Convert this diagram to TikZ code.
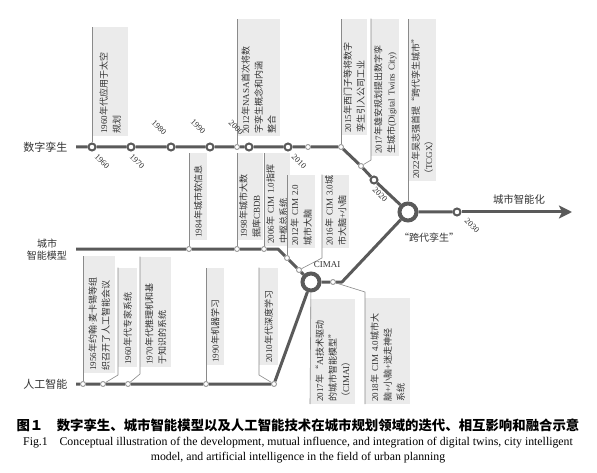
\documentclass[tikz,border=0pt]{standalone}
\usepackage{fontspec}
\setmainfont{Liberation Serif}
\newfontfamily\cjk[RawFeature=+fwid]{Noto Sans CJK SC}
\usetikzlibrary{arrows.meta}

% Chinese characters switch to the CJK font by themselves
\newXeTeXintercharclass\cjkcls
\newcount\cjkc
\def\cjkrange#1#2{\cjkc=#1\relax
  \loop\XeTeXcharclass\cjkc=\cjkcls\relax
  \ifnum\cjkc<#2\relax\advance\cjkc by 1\relax\repeat}
\cjkrange{"4E00}{"9FFF}
\cjkrange{"3000}{"303F}
\cjkrange{"FF00}{"FFEF}
\XeTeXcharclass"201C=\cjkcls
\XeTeXcharclass"201D=\cjkcls
\XeTeXinterchartoks 0 \cjkcls={\cjk}
\XeTeXinterchartoks 4095 \cjkcls={\cjk}
\XeTeXinterchartoks \cjkcls 0={\rmfamily}
\XeTeXinterchartoks \cjkcls 4095={\rmfamily}
\XeTeXinterchartokenstate=1

\definecolor{linegray}{HTML}{5A5A5A}
\definecolor{ptgray}{HTML}{9A9A9A}
\definecolor{leadgray}{HTML}{8A8A8A}
\definecolor{boxgray}{HTML}{EBEBEB}
\definecolor{txt}{HTML}{333333}

\begin{document}
\begin{tikzpicture}[x=1pt,y=-1pt,
  main/.style={draw=linegray, line width=3pt, line join=round},
  lead/.style={draw=leadgray, line width=0.6pt},
  big/.style={circle, draw=linegray, line width=2pt, fill=white, inner sep=0pt, minimum size=7pt},
  sml/.style={circle, draw=ptgray, line width=0.9pt, fill=white, inner sep=0pt, minimum size=5pt},
  hub/.style={circle, draw=linegray, line width=4pt, fill=white, inner sep=0pt, minimum size=17pt},
  evt/.style={fill=boxgray, rotate=90, anchor=north west, align=left, inner sep=2pt,
    font=\fontsize{9}{13}\selectfont, text=txt},
  yr/.style={rotate=-45, font=\fontsize{8.5}{8.5}\selectfont, text=txt},
  lbl/.style={font=\fontsize{11}{12}\selectfont, text=txt}]

  \fill[white] (0,0) rectangle (597,473);

  % 数字孪生
  \node[big] (m1960) at (92,147) {};
  \node[big] (m1970) at (131,147) {};
  \node[big] (m1980) at (171,147) {};
  \node[big] (m1990) at (210,147) {};
  \node[sml] (s2012n) at (237,147) {};
  \node[big] (m2000) at (249,147) {};
  \node[big] (m2010) at (288,147) {};
  \node[sml] (sdt) at (308,147) {};
  \node[sml] (s2015) at (341,147) {};
  \node[sml] (s2017x) at (361,166) {};
  \node[big] (m2020) at (374,180) {};
  \node[hub] (tcgx) at (408,212) {};
  \node[big] (m2030) at (457,212) {};
  \coordinate (dts) at (76,147);
  \coordinate (arw) at (572,212);

  % 城市智能模型
  \node[sml] (s1984) at (189,249) {};
  \node[sml] (s1998) at (237,249) {};
  \node[sml] (s2006) at (264,249) {};
  \node[sml] (s2012c) at (287,258) {};
  \node[sml] (s2016) at (299,270) {};
  \node[hub] (cimai) at (311,282) {};
  \node[sml] (s2018) at (333,282) {};
  \coordinate (cms) at (76,249);
  \coordinate (cmb1) at (278,249);
  \coordinate (cmb2) at (342,282);

  % 人工智能
  \node[sml] (s1956) at (83,384) {};
  \node[sml] (s1960) at (103,384) {};
  \node[sml] (s1970) at (128,384) {};
  \node[sml] (s1990) at (206,384) {};
  \node[sml] (s2010) at (274,384) {};
  \coordinate (ais) at (76,384);

  \draw[main] (dts) -- (m1960) -- (m1970) -- (m1980) -- (m1990) -- (s2012n) -- (m2000)
    -- (m2010) -- (sdt) -- (s2015) -- (s2017x) -- (m2020) -- (tcgx) -- (m2030);
  \draw[main, -{Stealth[length=13pt, width=13pt, inset=3pt]}] (m2030) -- (arw);
  \draw[main] (cms) -- (s1984) -- (s1998) -- (s2006) -- (cmb1) -- (s2012c) -- (s2016)
    -- (cimai) -- (s2018) -- (cmb2) -- (tcgx);
  \draw[main] (ais) -- (s1956) -- (s1960) -- (s1970) -- (s1990) -- (s2010) -- (cimai);

  % boxes above
  \node[evt, text width=105pt, minimum height=36pt] (b1960) at (92,136) {1960年代应用于太空\\规划};
  \node[evt, text width=113pt, minimum height=43pt] (b2012n) at (237,136) {2012年NASA首次将数\\字孪生概念和内涵\\整合};
  \node[evt, text width=112pt, minimum height=26pt] (b2015) at (341,135) {2015年西门子等将数字\\孪生引入公司工业};
  \node[evt, text width=133pt, minimum height=28pt] (b2017x) at (371,156) {2017年雄安规划提出数字孪\\生城市(Digital~Twins~City)};
  \node[evt, text width=158pt, minimum height=28pt] (b2022) at (408,181) {2022年吴志强首提“跨代孪生城市”\\（TCGX）};

  % boxes in the middle
  \node[evt, text width=83pt, minimum height=18pt] (b1984) at (189,240) {1984年城市软信息};
  \node[evt, text width=83pt, minimum height=25pt] (b1998) at (237,240) {1998年城市大数\\据库CBDB};
  \node[evt, text width=89pt, minimum height=23pt] (b2006) at (264,246) {2006年~CIM~1.0指挥\\中枢总系统};
  \node[evt, text width=69pt, minimum height=28pt] (b2012c) at (287,248) {2012年~CIM~2.0\\城市大脑};
  \node[evt, text width=69pt, minimum height=27pt] (b2016) at (322,248) {2016年~CIM~3.0城\\市大脑+小脑};

  % boxes below
  \node[evt, text width=113pt, minimum height=32pt] (b1956) at (83,373) {1956年约翰·麦卡锡等组\\织召开了人工智能会议};
  \node[evt, text width=95pt, minimum height=19pt] (b1960s) at (118,367) {1960年代专家系统};
  \node[evt, text width=106pt, minimum height=31pt] (b1970) at (140,367) {1970年代推理机和基\\于知识的系统};
  \node[evt, text width=93pt, minimum height=18pt] (b1990) at (206,365) {1990年机器学习};
  \node[evt, text width=93pt, minimum height=19pt] (b2010) at (259,365) {2010年代深度学习};
  \node[evt, text width=101pt, minimum height=45pt] (b2017c) at (310,404) {2017年“AI技术驱动\\的城市智能模型”\\（CIMAI）};
  \node[evt, text width=102pt, minimum height=45pt] (b2018) at (365,404) {2018年~CIM~4.0城市大\\脑+小脑+迷走神经\\系统};

  % leaders
  \draw[lead] (m1960) -- (b1960.north east);
  \draw[lead] (s2012n) -- (b2012n.north east);
  \draw[lead] (s2015) -- (b2015.north east);
  \draw[lead] (s2017x) -- ++(10,-6) -- (b2017x.north east);
  \draw[lead] (tcgx) -- (b2022.north east);
  \draw[lead] (s1984) -- (b1984.north east);
  \draw[lead] (s1998) -- (b1998.north east);
  \draw[lead] (s2006) -- (b2006.north east);
  \draw[lead] (s2012c) -- (b2012c.north east);
  \draw[lead] (s2016) -- ++(23,-12) -- (b2016.north east);
  \draw[lead] (s1956) -- (b1956.north east);
  \draw[lead] (s1960) -- ++(15,-9) -- (b1960s.north east);
  \draw[lead] (s1970) -- ++(12,-10) -- (b1970.north east);
  \draw[lead] (s1990) -- (b1990.north east);
  \draw[lead] (s2010) -- ++(-15,-9) -- (b2010.north east);
  \draw[lead] (cimai) -- (b2017c.north west);
  \draw[lead] (s2018) -- ++(32,10) -- (b2018.north west);

  % years
  \node[yr] (t1960) at (102,162) {1960};
  \node[yr] (t1970) at (137,162) {1970};
  \node[yr] (t1980) at (159,128) {1980};
  \node[yr] (t1990) at (198,127) {1990};
  \node[yr] (t2000) at (236,128) {2000};
  \node[yr] (t2010) at (299,162) {2010};
  \node[yr] (t2020) at (380,195) {2020};
  \node[yr] (t2030) at (472,226) {2030};

  % labels
  \node[lbl, anchor=east] (ldt) at (71,147) {数字孪生};
  \node[lbl, align=center, font=\fontsize{10}{12}\selectfont] (lcm) at (47,250) {城市\\智能模型};
  \node[lbl, anchor=east] (lai) at (71,384) {人工智能};
  \node[font=\fontsize{9}{9}\selectfont, text=txt] (lcimai) at (327,265) {CIMAI};
  \node[lbl, font=\fontsize{10.4}{12}\selectfont] (lcity) at (519,200) {城市智能化};
  \node[lbl, font=\fontsize{10}{12}\selectfont] (ltcgx) at (429,238) {“跨代孪生”};

  % caption
  \node[font=\fontsize{13.4}{14}\selectfont] (cap) at (298,425)
    {\XeTeXinterchartokenstate=0 \cjk\bfseries 图1　数字孪生、城市智能模型以及人工智能技术在城市规划领域的迭代、相互影响和融合示意};
  \node[font=\fontsize{11.8}{15}\selectfont, align=center] (capen) at (298,450)
    {Fig.1\quad Conceptual illustration of the development, mutual influence, and integration of digital twins, city intelligent\\model, and artificial intelligence in the field of urban planning};
\end{tikzpicture}
\end{document}
